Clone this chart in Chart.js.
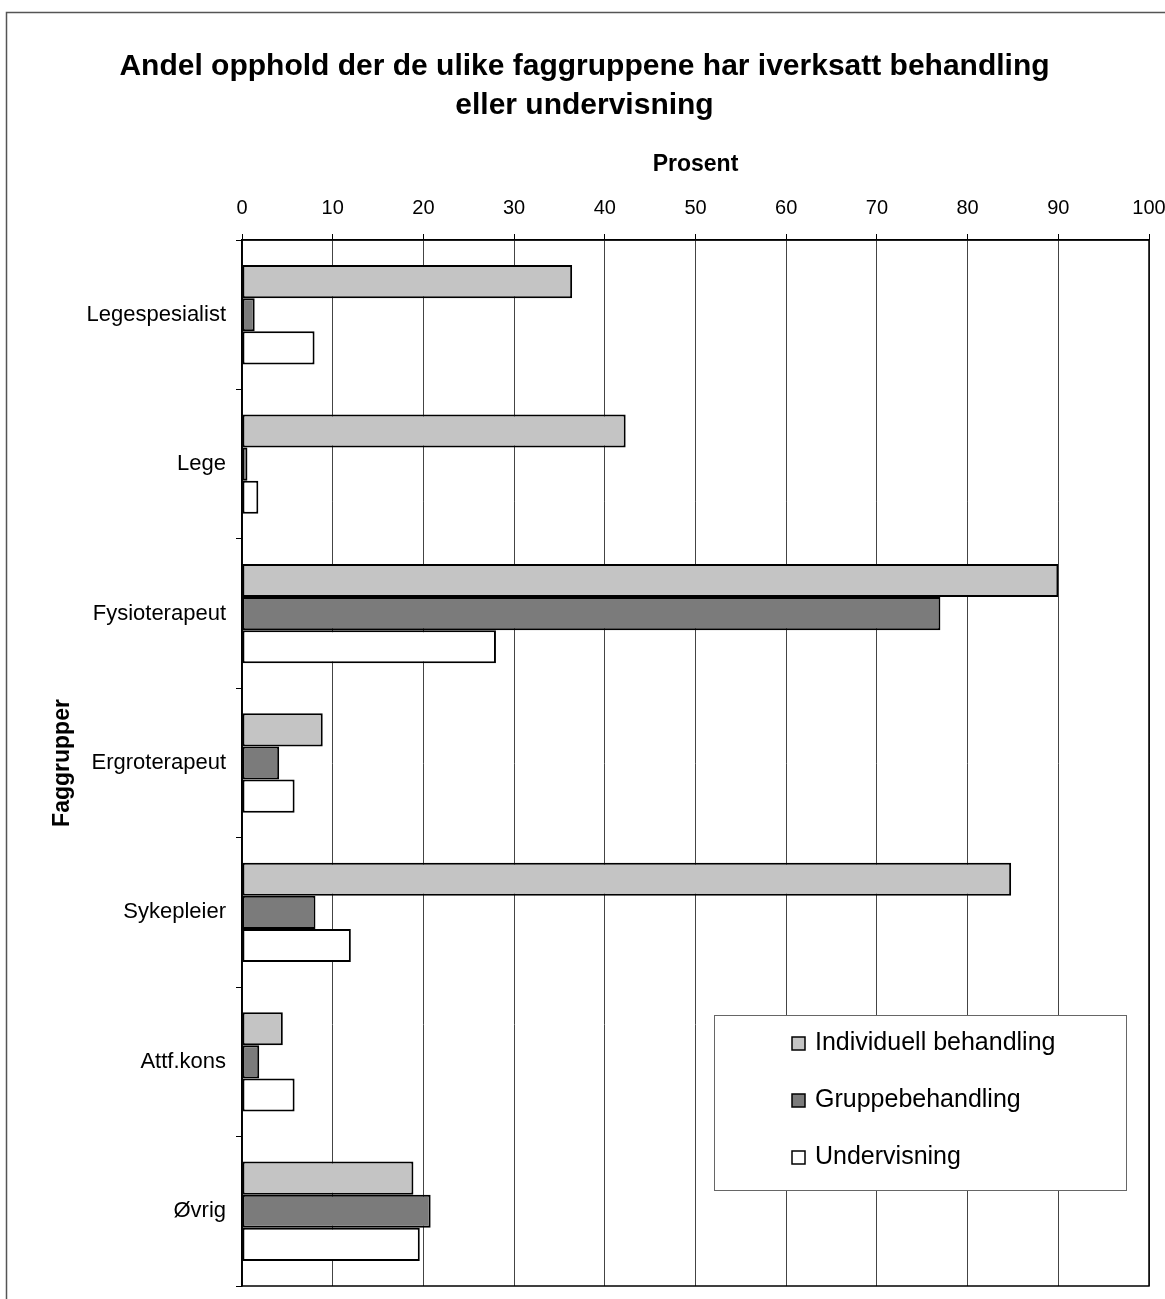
<!DOCTYPE html>
<html>
<head>
<meta charset="utf-8">
<script src="https://cdn.jsdelivr.net/npm/chart.js@4.4.1/dist/chart.umd.min.js"></script>
<style>
  html, body { margin: 0; padding: 0; background: #fff; }
</style>
</head>
<body>
<canvas id="chart" width="1165" height="1299"></canvas>
<script>
const categories = ['Legespesialist', 'Lege', 'Fysioterapeut', 'Ergroterapeut', 'Sykepleier', 'Attf.kons', 'Øvrig'];
const individuell = [36.4, 42.3, 90.0, 8.9, 84.8, 4.5, 18.9];
const gruppe = [1.4, 0.6, 77.0, 4.1, 8.1, 1.9, 20.8];
const undervisning = [8.0, 1.8, 28.0, 5.8, 12.0, 5.8, 19.6];
const seriesNames = ['Individuell behandling', 'Gruppebehandling', 'Undervisning'];
const seriesColors = ['#c4c4c4', '#7b7b7b', '#ffffff'];
const xTicks = [0, 10, 20, 30, 40, 50, 60, 70, 80, 90, 100];

const FONT = "'Liberation Sans', Arial, sans-serif";

// outer frame around the whole figure
const framePlugin = {
  id: 'frame',
  beforeDraw(chart) {
    const ctx = chart.ctx;
    ctx.save();
    ctx.strokeStyle = '#555';
    ctx.lineWidth = 1.5;
    ctx.strokeRect(6.5, 12.5, chart.width + 50, chart.height + 50);
    ctx.restore();
  }
};

// box round the plot area + legend inside it, bottom right
const plotBoxPlugin = {
  id: 'plotBox',
  afterDraw(chart) {
    const ctx = chart.ctx;
    const a = chart.chartArea;
    ctx.save();
    ctx.strokeStyle = '#000';
    ctx.lineWidth = 1.5;
    ctx.strokeRect(a.left, a.top, a.right - a.left, a.bottom - a.top);

    const bx = a.right - 435, by = a.bottom - 271, bw = 412, bh = 175;
    ctx.fillStyle = '#fff';
    ctx.fillRect(bx, by, bw, bh);
    ctx.strokeStyle = '#666';
    ctx.lineWidth = 1;
    ctx.strokeRect(bx + 0.5, by + 0.5, bw, bh);

    ctx.font = '25px ' + FONT;
    ctx.textBaseline = 'middle';
    ctx.textAlign = 'left';
    chart.data.datasets.forEach((ds, i) => {
      const cy = by + 28 + i * 57;
      ctx.fillStyle = ds.backgroundColor;
      ctx.fillRect(bx + 78, cy - 6, 13, 13);
      ctx.strokeStyle = '#000';
      ctx.lineWidth = 1.5;
      ctx.strokeRect(bx + 78, cy - 6, 13, 13);
      ctx.fillStyle = '#000';
      ctx.fillText(ds.label, bx + 101, cy);
    });
    ctx.restore();
  }
};

function makeDataset(i, data) {
  return {
    label: seriesNames[i],
    data,
    backgroundColor: seriesColors[i],
    borderColor: '#000',
    borderWidth: 2,
    borderSkipped: false,
    categoryPercentage: 0.665,
    barPercentage: 1.0
  };
}

new Chart(document.getElementById('chart'), {
  type: 'bar',
  data: {
    labels: categories,
    datasets: [
      makeDataset(0, individuell),
      makeDataset(1, gruppe),
      makeDataset(2, undervisning)
    ]
  },
  options: {
    indexAxis: 'y',
    responsive: false,
    animation: false,
    layout: { padding: { left: 20, top: 0, right: 16, bottom: 13 } },
    plugins: {
      legend: { display: false },
      tooltip: { enabled: false },
      title: {
        display: true,
        text: ['Andel opphold der de ulike faggruppene har iverksatt behandling', 'eller undervisning'],
        color: '#000',
        font: { family: FONT, size: 30, weight: 'bold', lineHeight: 1.3 },
        padding: { top: 47, bottom: 0 }
      }
    },
    scales: {
      x: {
        position: 'top',
        min: 0,
        max: 100,
        afterBuildTicks(scale) {
          scale.ticks = xTicks.map((v) => ({ value: v }));
        },
        afterFit(scale) {
          scale.height = 115;
          scale.paddingLeft = 0;
          scale.paddingRight = 0;
        },
        ticks: { color: '#000', font: { family: FONT, size: 20 }, padding: 14 },
        grid: { color: '#444', lineWidth: 1, tickLength: 6, tickColor: '#000' },
        border: { display: true, color: '#000', width: 1.5 },
        title: {
          display: true,
          text: 'Prosent',
          color: '#000',
          font: { family: FONT, size: 23, weight: 'bold' },
          padding: { top: 26, bottom: 0 }
        }
      },
      y: {
        afterFit(scale) {
          scale.width = 222;
          scale.paddingTop = 0;
          scale.paddingBottom = 0;
        },
        ticks: { color: '#000', font: { family: FONT, size: 22 }, padding: 10 },
        grid: { drawOnChartArea: false, tickLength: 6, tickColor: '#000', offset: true },
        border: { display: true, color: '#000', width: 1.5 },
        title: {
          display: true,
          text: 'Faggrupper',
          color: '#000',
          font: { family: FONT, size: 23, weight: 'bold' },
          padding: { top: 29, bottom: 0 }
        }
      }
    }
  },
  plugins: [framePlugin, plotBoxPlugin]
});
</script>
</body>
</html>
